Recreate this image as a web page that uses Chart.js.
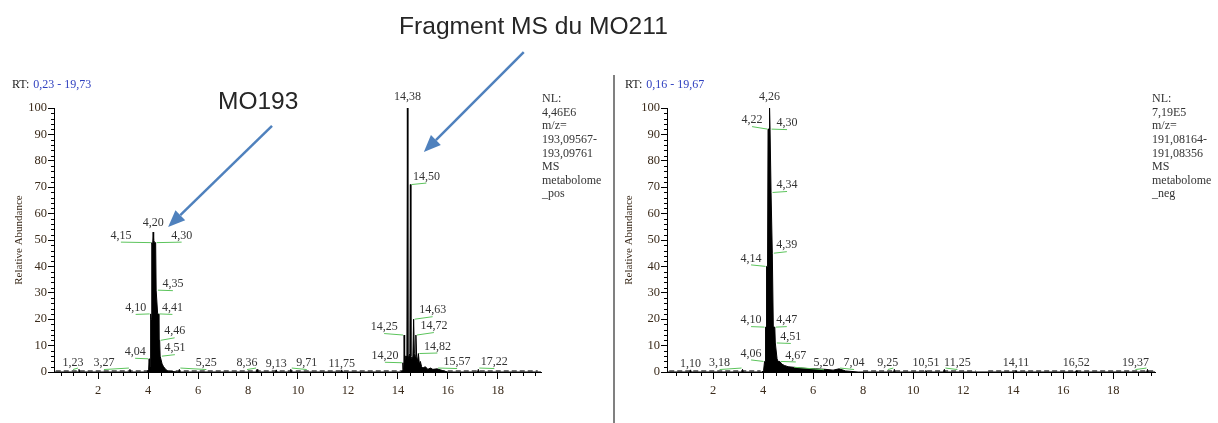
<!DOCTYPE html>
<html>
<head>
<meta charset="utf-8">
<script src="https://cdn.jsdelivr.net/npm/chart.js@4.4.0/dist/chart.umd.min.js"></script>
<style>
  body { margin: 0; background: #fff; }
  #page { position: relative; width: 1218px; height: 423px; overflow: hidden; background: #fff; }
  #chartPos { position: absolute; left: 0; top: 0; }
  #chartNeg { position: absolute; left: 614px; top: 0; }
  #sep { position: absolute; left: 613px; top: 75px; width: 2px; height: 348px; background: #808080; }
  .big { position: absolute; font-family: "Liberation Sans", Arial, sans-serif; color: #262626; white-space: nowrap; }
</style>
</head>
<body>
<div id="page">
  <canvas id="chartPos" width="614" height="423"></canvas>
  <canvas id="chartNeg" width="604" height="423"></canvas>
  <div id="sep"></div>
  <div class="big" style="left:399px; top:14px; font-size:24.6px; line-height:24.6px;">Fragment MS du MO211</div>
  <div class="big" style="left:218px; top:89px; font-size:24.5px; line-height:24.5px;">MO193</div>
</div>
<script>
// axis ticks
const xTickLabels = [2, 4, 6, 8, 10, 12, 14, 16, 18];
const yTickLabels = [0, 10, 20, 30, 40, 50, 60, 70, 80, 90, 100];

// positive mode trace (m/z 193)
const posRange = [0.23, 19.73];
const posRT = [0.23, 1.20, 1.23, 1.26, 3.24, 3.27, 3.30,
  3.95, 4.02, 4.04, 4.06, 4.08, 4.10, 4.12, 4.14, 4.15, 4.18,
  4.20, 4.22, 4.26, 4.30, 4.32, 4.35, 4.38, 4.41, 4.43, 4.46,
  4.48, 4.51, 4.56, 4.62, 4.70, 4.80,
  5.22, 5.25, 5.28, 8.33, 8.36, 8.39, 9.10, 9.13, 9.16, 9.68, 9.71, 9.74, 11.72, 11.75, 11.78,
  14.10, 14.18, 14.20, 14.22, 14.24, 14.25, 14.27, 14.30, 14.34, 14.36,
  14.38, 14.40, 14.44, 14.48, 14.50, 14.52, 14.56, 14.60, 14.63, 14.66,
  14.69, 14.72, 14.75, 14.79, 14.82, 14.86, 14.90, 14.95, 15.00, 15.10,
  15.20, 15.30, 15.40, 15.57, 15.80, 16.00, 17.19, 17.22, 17.25, 19.73];
const posAbund = [0, 0, 1, 0, 0, 1, 0,
  0, 1, 5, 1.5, 2, 22, 20, 35, 49, 48,
  53, 50, 49, 49, 31, 31, 22, 22, 12, 12,
  6, 6, 3, 2, 1, 0.3,
  0, 1, 0, 0, 1, 0, 0, 0.8, 0, 0, 1, 0, 0, 0.8, 0,
  0, 0.5, 3.5, 1, 3, 14, 3, 6, 6, 4,
  100, 5, 6, 7, 71, 6, 5, 6, 20, 7,
  6, 14, 6, 4, 7, 3, 4, 2, 1.5, 2,
  1, 1.5, 1, 1.2, 0.5, 0, 0, 1, 0, 0];
const posBaseRT = [0.3, 19.6];
const posBaseLevel = [0.4, 0.4];
const posPeakRT = [1.23, 3.27, 4.04, 4.10, 4.15, 4.20, 4.30, 4.35, 4.41, 4.46, 4.51, 5.25, 8.36,
  9.13, 9.71, 11.75, 14.20, 14.25, 14.38, 14.50, 14.63, 14.72, 14.82, 15.57, 17.22];
const posPeakAbund = [1.5, 1.5, 5, 22, 49, 53, 49, 31, 22, 12, 6, 1.5, 1.5,
  1, 1.5, 1, 3.5, 14, 100, 71, 20, 14, 7, 1.5, 1.5];
const posInfo = ['NL:', '4,46E6', 'm/z=', '193,09567-', '193,09761', 'MS', 'metabolome', '_pos'];

// negative mode trace (m/z 191)
const negRange = [0.16, 19.67];
const negRT = [0.16, 1.07, 1.10, 1.13, 3.15, 3.18, 3.21,
  3.95, 4.02, 4.06, 4.08, 4.10, 4.12, 4.14, 4.18,
  4.20, 4.22, 4.24, 4.26, 4.28, 4.30, 4.32, 4.34,
  4.37, 4.39, 4.41, 4.47, 4.49, 4.51,
  4.56, 4.60, 4.67, 4.75, 4.85, 5.00,
  5.20, 5.50, 5.80, 6.10, 6.50, 6.80,
  7.04, 7.30, 7.80, 9.22, 9.25, 9.28, 10.48, 10.51, 10.54, 11.22, 11.25, 11.28,
  14.08, 14.11, 14.14, 16.49, 16.52, 16.55, 19.34, 19.37, 19.40, 19.67];
const negAbund = [0, 0, 0.8, 0, 0, 1, 0,
  0, 0.5, 4, 4, 17, 17, 40, 40,
  92, 92, 92, 100, 92, 92, 68, 68,
  45, 45, 17, 17, 11, 11,
  5, 4, 4, 3, 2.5, 2,
  1.8, 1.5, 1.3, 1.2, 1, 0.7,
  1.2, 0.4, 0, 0, 1, 0, 0, 0.6, 0, 0, 1, 0,
  0, 0.5, 0, 0, 0.5, 0, 0, 1, 0, 0];
const negBaseRT = [0.25, 3.9, 3.95, 8.0, 12.5, 12.6, 13.0, 19.6];
const negBaseLevel = [0.4, 0.4, null, 0.4, 0.4, null, 0.4, 0.4];
const negPeakRT = [1.10, 3.18, 4.06, 4.10, 4.14, 4.22, 4.26, 4.30, 4.34, 4.39, 4.47, 4.51, 4.67,
  5.20, 7.04, 9.25, 10.51, 11.25, 14.11, 16.52, 19.37];
const negPeakAbund = [1, 1.5, 4, 17, 40, 92, 100, 92, 68, 45, 17, 11, 4,
  1.8, 1.5, 1.5, 0.8, 1.5, 0.5, 0.5, 1.5];
const negInfo = ['NL:', '7,19E5', 'm/z=', '191,08164-', '191,08356', 'MS', 'metabolome', '_neg'];

// label placement, pixel offset of label centre from the peak apex
const posLabelOff = [[-6,-5],[-26,-5],[-14,-7],[-15,-6],[-31,-7],[0,-9],[26,-7],[16,-6],[14,-6],[15,-9],[14,-8],[27,-5],[-10,-5],
  [0,-6],[16,-5],[0,-6],[-18,-7],[-20,-8],[0,-11],[16,-8],[19,-9],[18,-9],[19,-7],[20,-6],[16,-6]];
const negLabelOff = [[0,-6],[-23,-5],[-13.5,-8],[-14.5,-7],[-15.5,-8],[-16.5,-9],[0,-11],[16.5,-6],[15.5,-7.5],[14,-8],[12,-7],[15,-6],[16,-6],
  [31,-4],[15,-5],[-6.5,-5],[0,-7],[13,-5],[0,-8],[0,-8],[-12,-5]];
// arrows in axis units of the left panel
const posArrows = [{ from: [8.96, 93.2], to: [4.8, 54.9] }, { from: [19.04, 121.2], to: [15.04, 83.3] }];

const fmt = v => v.toFixed(2).replace('.', ',');
const tickColor = '#3a2a1a';

function decor(cfg) {
  return {
    id: 'decor',
    afterDraw(chart) {
      const ctx = chart.ctx, x = chart.scales.x, y = chart.scales.y;
      ctx.save();

      // minor ticks
      ctx.strokeStyle = '#000';
      ctx.lineWidth = 1;
      ctx.beginPath();
      for (let v = 2; v < 100; v += 2) {
        if (v % 10 === 0) continue;
        const py = Math.round(y.getPixelForValue(v)) + 0.5;
        ctx.moveTo(x.left - 3, py);
        ctx.lineTo(x.left, py);
      }
      for (let v = 0.5; v < cfg.range[1]; v += 0.5) {
        if (v < cfg.range[0] || v % 2 === 0) continue;
        const px = Math.round(x.getPixelForValue(v)) + 0.5;
        ctx.moveTo(px, y.bottom);
        ctx.lineTo(px, y.bottom + 4);
      }
      ctx.stroke();

      // peak labels
      ctx.font = '12px "Liberation Serif"';
      ctx.textAlign = 'center';
      ctx.textBaseline = 'middle';
      cfg.peakRT.forEach((rt, i) => {
        const px = x.getPixelForValue(rt), py = y.getPixelForValue(cfg.peakAb[i]);
        const [dx, dy] = cfg.off[i];
        if (Math.abs(dx) > 2) {
          ctx.strokeStyle = '#5cc45c';
          ctx.beginPath();
          ctx.moveTo(px + Math.sign(dx), py);
          ctx.lineTo(px + dx, py + dy + 6.5);
          ctx.stroke();
        }
        ctx.fillStyle = '#333';
        ctx.fillText(fmt(rt), px + dx, py + dy);
      });

      // RT header
      ctx.textAlign = 'left';
      ctx.fillStyle = '#222';
      ctx.fillText('RT:', cfg.rtX, 85);
      const w = ctx.measureText('RT:').width;
      ctx.fillStyle = '#2e3fbf';
      ctx.fillText(fmt(cfg.range[0]) + ' - ' + fmt(cfg.range[1]), cfg.rtX + w + 4, 85);

      // NL block
      ctx.fillStyle = '#333';
      cfg.info.forEach((t, i) => ctx.fillText(t, cfg.nlX, 99 + i * 13.6));

      // arrows
      ctx.strokeStyle = '#4f81bd';
      ctx.fillStyle = '#4f81bd';
      ctx.lineWidth = 2.5;
      (cfg.arrows || []).forEach(a => {
        const x0 = x.getPixelForValue(a.from[0]), y0 = y.getPixelForValue(a.from[1]);
        const x1 = x.getPixelForValue(a.to[0]), y1 = y.getPixelForValue(a.to[1]);
        const ang = Math.atan2(y1 - y0, x1 - x0), L = 17, W = 7;
        const bx = x1 - L * Math.cos(ang), by = y1 - L * Math.sin(ang);
        ctx.beginPath();
        ctx.moveTo(x0, y0);
        ctx.lineTo(bx, by);
        ctx.stroke();
        ctx.beginPath();
        ctx.moveTo(x1, y1);
        ctx.lineTo(bx + W * Math.sin(ang), by - W * Math.cos(ang));
        ctx.lineTo(bx - W * Math.sin(ang), by + W * Math.cos(ang));
        ctx.closePath();
        ctx.fill();
      });
      ctx.restore();
    }
  };
}

function makeChart(id, rt, ab, baseRT, baseLevel, range, yWidth, padRight, titlePad, deco) {
  return new Chart(document.getElementById(id), {
    type: 'line',
    data: {
      datasets: [
        {
          data: rt.map((v, i) => ({ x: v, y: ab[i] })),
          borderColor: '#000',
          backgroundColor: '#000',
          borderWidth: 1,
          fill: 'origin',
          pointRadius: 0,
          tension: 0,
          clip: false,
        },
        {
          data: baseRT.map((v, i) => ({ x: v, y: baseLevel[i] })),
          borderColor: '#000',
          borderWidth: 1,
          borderDash: [5, 3],
          pointRadius: 0,
          fill: false,
          spanGaps: false,
        },
      ]
    },
    options: {
      responsive: false,
      animation: false,
      devicePixelRatio: 1,
      layout: { padding: { left: 0, right: padRight, top: 108, bottom: 21 } },
      plugins: { legend: { display: false }, tooltip: { enabled: false } },
      scales: {
        x: {
          type: 'linear',
          min: range[0],
          max: range[1],
          afterBuildTicks: s => { s.ticks = xTickLabels.map(v => ({ value: v })); },
          afterFit: s => { s.height = 30; },
          border: { display: true, color: '#000', width: 1 },
          grid: { drawOnChartArea: false, drawTicks: true, tickLength: 7, color: '#000' },
          ticks: { color: tickColor, padding: 4, maxRotation: 0, autoSkip: false,
                   font: { family: 'Liberation Serif', size: 12.5 } },
        },
        y: {
          type: 'linear',
          min: 0,
          max: 100,
          afterBuildTicks: s => { s.ticks = yTickLabels.map(v => ({ value: v })); },
          afterFit: s => { s.width = yWidth; },
          border: { display: true, color: '#000', width: 1 },
          grid: { drawOnChartArea: false, drawTicks: true, tickLength: 6, color: '#000' },
          ticks: { color: tickColor, padding: 1, autoSkip: false,
                   font: { family: 'Liberation Serif', size: 12.5 } },
          title: {
            display: true,
            text: 'Relative Abundance',
            color: tickColor,
            font: { family: 'Liberation Serif', size: 11 },
            padding: { top: titlePad, bottom: 0 },
          },
        },
      }
    },
    plugins: [decor(deco)]
  });
}

makeChart('chartPos', posRT, posAbund, posBaseRT, posBaseLevel, posRange, 54, 73, 13, {
  range: posRange, peakRT: posPeakRT, peakAb: posPeakAbund, off: posLabelOff,
  info: posInfo, rtX: 12, nlX: 542, arrows: posArrows
});
makeChart('chartNeg', negRT, negAbund, negBaseRT, negBaseLevel, negRange, 53, 63, 9, {
  range: negRange, peakRT: negPeakRT, peakAb: negPeakAbund, off: negLabelOff,
  info: negInfo, rtX: 11, nlX: 538
});
</script>
</body>
</html>
